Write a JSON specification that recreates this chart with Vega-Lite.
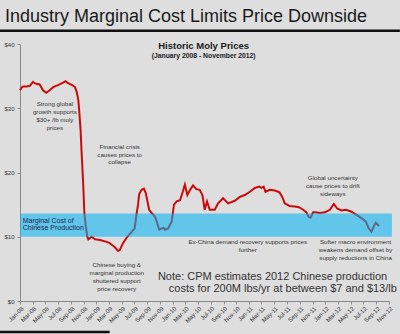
{
  "$schema": "https://vega.github.io/schema/vega-lite/v6.json",
  "width": 369,
  "height": 257,
  "autosize": "none",
  "padding": {"left": 20, "top": 44, "right": 11, "bottom": 33},
  "background": "#dedede",
  "config": {"view": {"stroke": null}, "font": "Liberation Sans"},
  "title": {"text": "Industry Marginal Cost Limits Price Downside", "anchor": "start", "frame": "group", "fontSize": 18, "fontWeight": "normal", "font": "Liberation Sans", "color": "#1a1a1a", "offset": 4, "dx": -15},
  "datasets": {
    "prices": [
      {"date":"2008-01-01","price":32.8},{"date":"2008-01-08","price":33.2},{"date":"2008-01-16","price":33.4},{"date":"2008-02-03","price":33.4},{"date":"2008-02-17","price":33.5},{"date":"2008-03-03","price":34.1},{"date":"2008-03-11","price":33.9},{"date":"2008-03-19","price":33.8},{"date":"2008-04-04","price":33.7},{"date":"2008-04-20","price":32.8},{"date":"2008-05-06","price":32.4},{"date":"2008-05-22","price":32.8},{"date":"2008-06-08","price":33.3},{"date":"2008-07-01","price":33.6},{"date":"2008-07-25","price":34.0},{"date":"2008-08-06","price":34.2},{"date":"2008-08-18","price":33.9},{"date":"2008-09-07","price":33.6},{"date":"2008-09-20","price":33.3},{"date":"2008-09-28","price":32.6},{"date":"2008-10-06","price":31.3},{"date":"2008-10-10","price":29.8},{"date":"2008-10-17","price":26.6},{"date":"2008-10-22","price":23.0},{"date":"2008-10-30","price":17.8},{"date":"2008-11-04","price":13.7},{"date":"2008-11-11","price":11.6},{"date":"2008-11-18","price":10.0},{"date":"2008-11-23","price":9.6},{"date":"2008-12-09","price":10.0},{"date":"2008-12-25","price":9.6},{"date":"2009-01-18","price":9.5},{"date":"2009-02-19","price":9.2},{"date":"2009-03-05","price":9.0},{"date":"2009-03-21","price":8.6},{"date":"2009-03-29","price":8.4},{"date":"2009-04-14","price":7.8},{"date":"2009-04-22","price":7.9},{"date":"2009-05-08","price":9.0},{"date":"2009-05-24","price":9.8},{"date":"2009-06-09","price":10.4},{"date":"2009-07-03","price":11.3},{"date":"2009-07-11","price":13.4},{"date":"2009-07-19","price":15.0},{"date":"2009-07-24","price":16.6},{"date":"2009-08-05","price":17.3},{"date":"2009-08-16","price":17.5},{"date":"2009-08-25","price":16.8},{"date":"2009-09-10","price":14.2},{"date":"2009-09-22","price":13.7},{"date":"2009-10-07","price":13.2},{"date":"2009-10-19","price":12.1},{"date":"2009-10-28","price":11.1},{"date":"2009-11-09","price":11.3},{"date":"2009-11-17","price":11.4},{"date":"2009-11-25","price":11.1},{"date":"2009-12-10","price":11.3},{"date":"2009-12-27","price":12.4},{"date":"2010-01-07","price":15.0},{"date":"2010-01-20","price":15.5},{"date":"2010-02-05","price":15.7},{"date":"2010-02-18","price":17.0},{"date":"2010-02-28","price":18.1},{"date":"2010-03-12","price":16.5},{"date":"2010-03-23","price":17.2},{"date":"2010-04-08","price":18.0},{"date":"2010-04-24","price":17.4},{"date":"2010-05-10","price":17.3},{"date":"2010-05-23","price":16.5},{"date":"2010-06-03","price":14.2},{"date":"2010-06-14","price":15.5},{"date":"2010-06-27","price":14.2},{"date":"2010-07-21","price":14.2},{"date":"2010-08-06","price":15.2},{"date":"2010-08-30","price":16.0},{"date":"2010-09-23","price":15.2},{"date":"2010-10-25","price":15.6},{"date":"2010-11-18","price":16.2},{"date":"2010-12-12","price":16.5},{"date":"2011-01-05","price":17.0},{"date":"2011-01-29","price":17.6},{"date":"2011-02-19","price":17.8},{"date":"2011-03-01","price":17.6},{"date":"2011-03-12","price":17.8},{"date":"2011-03-21","price":17.0},{"date":"2011-04-10","price":17.3},{"date":"2011-05-04","price":17.2},{"date":"2011-05-27","price":16.9},{"date":"2011-06-09","price":16.2},{"date":"2011-06-21","price":15.2},{"date":"2011-07-14","price":14.8},{"date":"2011-08-08","price":14.7},{"date":"2011-08-28","price":14.6},{"date":"2011-09-17","price":14.2},{"date":"2011-10-03","price":13.8},{"date":"2011-10-14","price":13.1},{"date":"2011-10-23","price":13.0},{"date":"2011-11-04","price":13.8},{"date":"2011-11-17","price":13.8},{"date":"2011-12-06","price":13.7},{"date":"2011-12-30","price":13.8},{"date":"2012-01-23","price":14.2},{"date":"2012-02-11","price":15.1},{"date":"2012-02-27","price":14.4},{"date":"2012-03-18","price":14.1},{"date":"2012-04-11","price":14.2},{"date":"2012-05-05","price":13.9},{"date":"2012-05-29","price":13.4},{"date":"2012-06-22","price":12.9},{"date":"2012-07-13","price":12.4},{"date":"2012-07-27","price":11.3},{"date":"2012-08-09","price":10.8},{"date":"2012-08-20","price":11.6},{"date":"2012-08-30","price":12.2},{"date":"2012-09-10","price":11.8},{"date":"2012-09-15","price":11.7}
    ],
    "band": [{"start":"2008-01-01","end":"2012-11-15","low":10,"high":13.6}],
    "small_notes": [
      {"date":"2008-06-16","value":30.66,"label":"Strong global\ngrowth supports\n$30+ /lb moly\nprices"},
      {"date":"2009-04-22","value":24.02,"label":"Financial crisis\ncauses prices to\ncollapse"},
      {"date":"2009-04-08","value":5.6,"label":"Chinese buying &\nmarginal production\nshuttered support\nprice recovery"},
      {"date":"2010-12-26","value":9.14,"label":"Ex-China demand recovery supports prices\nfurther"},
      {"date":"2012-02-06","value":19.1,"label":"Global uncertainty\ncause prices to drift\nsideways"},
      {"date":"2012-05-25","value":9.14,"label":"Softer macro environment\nweakens demand offset by\nsupply reductions in China"}
    ],
    "band_label": [{"date":"2008-01-14","value":12.5,"label":"Marginal Cost of\nChinese Production"}],
    "note": [
      {"date":"2009-10-22","value":3.69,"label":"Note: CPM estimates 2012 Chinese production"},
      {"date":"2009-12-13","value":1.87,"label":"costs for 200M lbs/yr at between $7 and $13/lb"}
    ],
    "chart_title": [{"date":"2010-05-29","value":39.69,"label":"Historic Moly Prices"}],
    "chart_sub": [{"date":"2010-05-29","value":38.21,"label":"(January 2008 - November 2012)"}],
    "rules": [
      {"start":"2007-09-27","end":"2012-12-23","value":42.06},
      {"start":"2007-09-27","end":"2009-03-05","value":-4.82}
    ]
  },
  "layer": [
    {
      "data": {"name": "prices"},
      "mark": {"type": "line", "color": "#cc0a0a", "strokeWidth": 2},
      "encoding": {
        "x": {"field": "date", "type": "temporal",
              "scale": {"type": "utc", "domain": [{"year":2008,"month":1,"date":1,"utc":true},{"year":2012,"month":11,"date":1,"utc":true}]},
              "axis": {"title": null, "tickCount": {"interval": "month", "step": 2}, "labelExpr": "utcFormat(datum.value, '%b-%y')", "labelAngle": -45, "labelFontSize": 6, "labelColor": "#333333", "domainColor": "#8a8a8a", "tickColor": "#8a8a8a", "tickSize": 3, "grid": false, "labelPadding": 1, "labelOverlap": false}},
        "y": {"field": "price", "type": "quantitative",
              "scale": {"domain": [0, 40], "nice": false, "zero": true},
              "axis": {"title": null, "values": [0,5,10,15,20,25,30,35,40], "labelExpr": "'$' + datum.value", "labelFontSize": 6, "labelColor": "#333333", "domainColor": "#8a8a8a", "tickColor": "#8a8a8a", "tickSize": 3, "grid": false, "labelPadding": 3}}
      }
    },
    {
      "data": {"name": "band"},
      "mark": {"type": "rect", "color": "#00b4f2", "opacity": 0.56},
      "encoding": {
        "x": {"field": "start", "type": "temporal"},
        "x2": {"field": "end"},
        "y": {"field": "low", "type": "quantitative"},
        "y2": {"field": "high"}
      }
    },
    {
      "data": {"name": "small_notes"},
      "mark": {"type": "text", "fontSize": 6.2, "color": "#333333", "align": "center", "baseline": "middle", "lineBreak": "\n", "lineHeight": 7.9},
      "encoding": {
        "x": {"field": "date", "type": "temporal"},
        "y": {"field": "value", "type": "quantitative"},
        "text": {"field": "label"}
      }
    },
    {
      "data": {"name": "band_label"},
      "mark": {"type": "text", "fontSize": 7, "color": "#1c2453", "align": "left", "baseline": "middle", "lineBreak": "\n", "lineHeight": 7.8},
      "encoding": {
        "x": {"field": "date", "type": "temporal"},
        "y": {"field": "value", "type": "quantitative"},
        "text": {"field": "label"}
      }
    },
    {
      "data": {"name": "note"},
      "mark": {"type": "text", "fontSize": 11, "color": "#333333", "align": "left", "baseline": "middle"},
      "encoding": {
        "x": {"field": "date", "type": "temporal"},
        "y": {"field": "value", "type": "quantitative"},
        "text": {"field": "label"}
      }
    },
    {
      "data": {"name": "chart_title"},
      "mark": {"type": "text", "fontSize": 9.5, "fontWeight": "bold", "color": "#1a1a1a", "align": "center", "baseline": "middle"},
      "encoding": {
        "x": {"field": "date", "type": "temporal"},
        "y": {"field": "value", "type": "quantitative"},
        "text": {"field": "label"}
      }
    },
    {
      "data": {"name": "chart_sub"},
      "mark": {"type": "text", "fontSize": 6.8, "fontWeight": "bold", "color": "#1a1a1a", "align": "center", "baseline": "middle"},
      "encoding": {
        "x": {"field": "date", "type": "temporal"},
        "y": {"field": "value", "type": "quantitative"},
        "text": {"field": "label"}
      }
    },
    {
      "data": {"name": "rules"},
      "mark": {"type": "rule", "color": "#111111", "strokeWidth": 2.5},
      "encoding": {
        "x": {"field": "start", "type": "temporal"},
        "x2": {"field": "end"},
        "y": {"field": "value", "type": "quantitative"}
      }
    }
  ]
}
